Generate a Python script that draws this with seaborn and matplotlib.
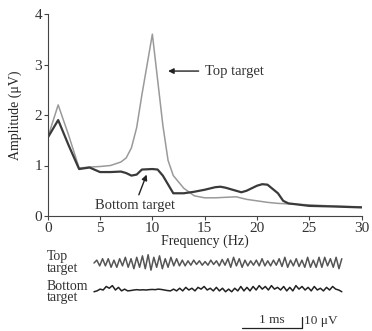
import numpy as np
import pandas as pd
import matplotlib
matplotlib.use("Agg")
import matplotlib.pyplot as plt
import seaborn as sns

# ---- data ----
freq_top = [0, 1, 2, 3, 4, 5, 6, 7, 7.5, 8, 8.5, 9, 9.5, 10, 10.5, 11, 11.5, 12, 13, 14, 15,
            16, 17, 18, 19, 20, 21, 22, 23, 25, 27, 30]
amp_top = [1.55, 2.2, 1.6, 0.95, 0.97, 0.98, 1.0, 1.07, 1.15, 1.35, 1.75, 2.4, 3.0, 3.6, 2.7,
           1.8, 1.1, 0.8, 0.55, 0.4, 0.36, 0.36, 0.37, 0.38, 0.33, 0.3, 0.27, 0.25, 0.24,
           0.22, 0.2, 0.18]

freq_bot = [0, 1, 2, 3, 4, 5, 6, 7, 7.5, 8, 8.5, 9, 10, 10.5, 11, 12, 13, 14, 15, 16,
            16.5, 17, 18, 18.5, 19, 20, 20.5, 21, 22, 22.5, 23, 25, 27, 30]
amp_bot = [1.55, 1.9, 1.4, 0.93, 0.96, 0.87, 0.87, 0.88, 0.85, 0.8, 0.82, 0.92, 0.93, 0.92,
           0.8, 0.45, 0.45, 0.48, 0.52, 0.57, 0.58, 0.56, 0.5, 0.47, 0.5, 0.6, 0.63, 0.62,
           0.45, 0.3, 0.25, 0.2, 0.19, 0.17]

xticks = [0, 5, 10, 15, 20, 25, 30]
yticks = [0, 1, 2, 3, 4]

# EEG traces (µV), sampled evenly over ~4.1 ms
trace_top = [0, 2.6, -2.6, 3.9, -2.6, 3.9, -3.9, 2.6, -3.9, 3.9, -2.6, 5.2, -3.9, 3.9, -5.2,
             5.2, -3.9, 6.5, -5.2, 7.5, -6.5, 5.2, -3.9, 6.5, -5.2, 3.9, -3.9, 5.2, -2.6,
             3.9, -2.6, 2.6, -2.6, 2.0, -2.0, 2.6, -1.3, 2.0, -2.0, 1.3, -2.0, 2.6, -1.3,
             2.0, -2.6, 3.2, -2.0, 3.9, -3.9, 5.2, -2.6, 3.9, -3.9, 2.6, -2.6, 2.0, -2.0,
             2.6, -2.6, 3.9, -2.6, 2.0, -2.6, 2.6, -2.0, 3.9, -3.2, 5.2, -3.9, 2.6, -2.6,
             3.9, -3.2, 2.6, -3.9, 5.2, -3.9, 2.6, -3.9, 5.2, -3.9, 5.2, -2.6, 3.9, -3.9,
             5.2, -5.2, 3.9]
trace_bot = [-1.6, -0.8, 0.8, 0.0, 3.2, 1.6, 4.0, 0.0, 2.4, -0.8, 0.8,
             -0.8, -0.5, 0.0, 0.3, 0.0, 0.2, 0.0, 0.3, 0.5, 0.3, 0.8, 0.5, 0.0, -0.5, -0.8,
             0.8, -0.8, 1.6, -0.8, 2.4, 0.0, 1.6, -0.8, 2.4, 0.8, 3.2, 0.0, 1.6, -0.8, 2.4,
             -0.8, 1.6, -1.6, 0.8, -1.6, 1.6, -0.8, 3.2, -0.8, 2.4, -0.8, 3.2, 0.0, 4.0,
             0.8, 3.2, 0.0, 4.0, 0.8, 2.4, 0.0, 3.2, -0.8, 2.4, -0.8, 4.0, 0.8, 3.2, 0.0,
             2.4, -0.8, 3.2, 0.0, 1.6, -0.8, 2.4, 0.0, 3.2, 0.8, 0.0, -1.6]
trace_duration_ms = 4.13

# ---- style ----
sns.set_style("ticks")
plt.rcParams['font.family'] = ['Liberation Serif', 'DejaVu Serif']
plt.rcParams['axes.edgecolor'] = '#444444'
plt.rcParams['xtick.color'] = '#444444'
plt.rcParams['ytick.color'] = '#444444'
plt.rcParams['text.color'] = '#333333'

fig = plt.figure(figsize=(3.72, 3.31), dpi=100)
W, H = 372, 331

# main axes in pixel geometry
ax = fig.add_axes([47.7 / W, (H - 216) / H, (361.7 - 47.7) / W, (216 - 14) / H])
df_top = pd.DataFrame({"Frequency": freq_top, "Amplitude": amp_top})
df_bot = pd.DataFrame({"Frequency": freq_bot, "Amplitude": amp_bot})
sns.lineplot(data=df_top, x="Frequency", y="Amplitude", ax=ax, color="#9a9a9a", lw=1.1)
sns.lineplot(data=df_bot, x="Frequency", y="Amplitude", ax=ax, color="#3a3a3a", lw=1.6)
ax.set_xlim(0, 30)
ax.set_ylim(0, 4)
ax.set_xticks(xticks)
ax.set_yticks(yticks)
ax.tick_params(labelsize=11, length=3, width=0.8, pad=1, labelcolor='#333333')
sns.despine(ax=ax)
ax.set_xlabel("Frequency (Hz)", fontsize=10, labelpad=0)
ax.set_ylabel("Amplitude (μV)", fontsize=10, labelpad=9)

ax.annotate("Top target", xy=(11.5, 2.87), xytext=(15.0, 2.87),
            fontsize=10.5, va="center", ha="left",
            arrowprops=dict(arrowstyle="-|>", color="#222222", lw=1.0,
                            mutation_scale=8, shrinkA=2, shrinkB=0))
ax.annotate("Bottom target", xy=(9.45, 0.82), xytext=(8.3, 0.2),
            fontsize=10.5, va="center", ha="center",
            arrowprops=dict(arrowstyle="-|>", color="#222222", lw=1.0,
                            mutation_scale=8, shrinkA=1, shrinkB=0))

# trace axes: x in ms, y in µV
px_per_ms = 60.0
px_per_uv = 1.1
x0_px, base_top_px, base_bot_px = 94.0, 263.0, 290.0
tax_top_px = 246.0
tax = fig.add_axes([0, 0, 1, (H - tax_top_px) / H])
tax.set_xlim(-x0_px / px_per_ms, (W - x0_px) / px_per_ms)
tax.set_ylim(-(H - base_top_px) / px_per_uv, (base_top_px - tax_top_px) / px_per_uv)
tax.axis("off")
off_bot = -(base_bot_px - base_top_px) / px_per_uv
t_top = np.linspace(0, trace_duration_ms, len(trace_top))
t_bot = np.linspace(0, trace_duration_ms, len(trace_bot))
sns.lineplot(x=t_top, y=np.array(trace_top), ax=tax, color="#555555", lw=1.1)
sns.lineplot(x=t_bot, y=np.array(trace_bot) + off_bot, ax=tax, color="#222222", lw=1.1)

lab_x = (47 - x0_px) / px_per_ms
tax.text(lab_x, 0.5, "Top\ntarget", fontsize=10, ha="left", va="center", linespacing=0.85)
tax.text(lab_x, off_bot - 2, "Bottom\ntarget", fontsize=10, ha="left", va="center",
         linespacing=0.85)

# scale bars
bar_y = -(327.5 - base_top_px) / px_per_uv
bx0 = (242 - x0_px) / px_per_ms
tax.plot([bx0, bx0 + 1.0], [bar_y, bar_y], color="#222222", lw=0.9)
tax.plot([bx0 + 1.0, bx0 + 1.0], [bar_y, bar_y + 10], color="#222222", lw=0.9)
tax.text(bx0 + 0.5, bar_y + 1.5, "1 ms", fontsize=9.5, ha="center", va="bottom")
tax.text(bx0 + 1.04, bar_y + 5.5, "10 μV", fontsize=9.5, ha="left", va="center")

fig.savefig("out.png", dpi=100)
